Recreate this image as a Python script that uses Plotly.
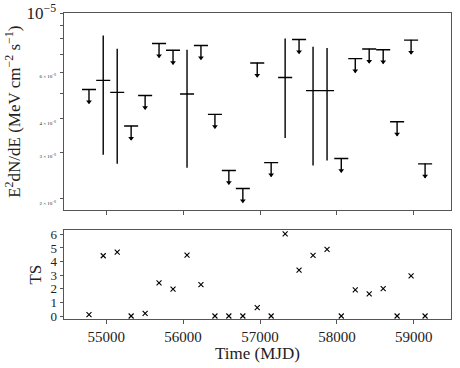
import plotly.graph_objects as go
from plotly.subplots import make_subplots

# bin centres (MJD)
mjd = [54776, 54961, 55143, 55324, 55506, 55687, 55869, 56051, 56232, 56414,
       56595, 56777, 56964, 57145, 57327, 57508, 57690, 57872, 58057, 58239,
       58420, 58602, 58783, 58965, 59147]
bin_half = 91.3

# flux (E^2 dN/dE), upper limits where not detected
flux = [5.16e-6, 5.58e-6, 5.03e-6, 3.76e-6, 4.90e-6, 7.68e-6, 7.24e-6, 4.96e-6,
        7.55e-6, 4.16e-6, 2.56e-6, 2.19e-6, 6.49e-6, 2.74e-6, 5.72e-6, 7.95e-6,
        5.11e-6, 5.11e-6, 2.84e-6, 6.74e-6, 7.32e-6, 7.28e-6, 3.90e-6, 7.91e-6,
        2.71e-6]
flux_hi = [None, 8.23e-6, 7.34e-6, None, None, None, None, 7.28e-6,
           None, None, None, None, None, None, 8.02e-6, None,
           7.47e-6, 7.39e-6, None, None, None, None, None, None, None]
flux_lo = [None, 2.93e-6, 2.71e-6, None, None, None, None, 2.62e-6,
           None, None, None, None, None, None, 3.39e-6, None,
           2.67e-6, 2.79e-6, None, None, None, None, None, None, None]

ts = [0.1, 4.43, 4.70, 0.0, 0.2, 2.44, 1.97, 4.48, 2.31, 0.0, 0.0, 0.0, 0.61,
      0.0, 6.03, 3.37, 4.45, 4.89, 0.0, 1.92, 1.62, 2.01, 0.0, 2.95, 0.0]

FONT = "Liberation Serif"
INK = "black"
FRAME = "#555555"
TXT = "#222222"

det = [i for i in range(len(mjd)) if flux_hi[i] is not None]
ul = [i for i in range(len(mjd)) if flux_hi[i] is None]

fig = make_subplots(rows=2, cols=1, shared_xaxes=True, vertical_spacing=0.065,
                    row_heights=[0.69, 0.31])

# detections
fig.add_trace(go.Scatter(
    x=[mjd[i] for i in det], y=[flux[i] for i in det], mode="markers",
    marker=dict(size=1, color=INK),
    error_x=dict(type="constant", value=bin_half, width=0, thickness=1.4, color=INK),
    error_y=dict(type="data", symmetric=False,
                 array=[flux_hi[i] - flux[i] for i in det],
                 arrayminus=[flux[i] - flux_lo[i] for i in det],
                 width=0, thickness=1.4, color=INK),
    showlegend=False, hoverinfo="skip"), row=1, col=1)

# upper limits: bar + stem
fig.add_trace(go.Scatter(
    x=[mjd[i] for i in ul], y=[flux[i] for i in ul], mode="markers",
    marker=dict(size=1, color=INK),
    error_x=dict(type="constant", value=bin_half, width=0, thickness=1.4, color=INK),
    error_y=dict(type="data", symmetric=False,
                 array=[0] * len(ul),
                 arrayminus=[flux[i] * (1 - 0.887) for i in ul],
                 width=0, thickness=1.4, color=INK),
    showlegend=False, hoverinfo="skip"), row=1, col=1)

# arrow heads
fig.add_trace(go.Scatter(
    x=[mjd[i] for i in ul], y=[flux[i] * 0.9 for i in ul], mode="markers",
    marker=dict(symbol="triangle-down", size=5, color=INK),
    showlegend=False, hoverinfo="skip"), row=1, col=1)

fig.add_trace(go.Scatter(
    x=mjd, y=ts, mode="markers",
    marker=dict(symbol="x-thin", size=5, line=dict(width=1.1, color=INK)),
    showlegend=False, hoverinfo="skip"), row=2, col=1)

small = '<span style="font-size:5px">{}</span>'
yt_vals = [2e-6, 3e-6, 4e-6, 5e-6, 6e-6, 7e-6, 8e-6, 9e-6, 1e-5]
yt_text = [small.format("2 × 10<sup>−6</sup>"), small.format("3 × 10<sup>−6</sup>"),
           small.format("4 × 10<sup>−6</sup>"), "", small.format("6 × 10<sup>−6</sup>"),
           "", "", "", "10<sup>−5</sup>"]

axis_common = dict(showline=True, mirror=True, linecolor=FRAME, linewidth=1,
                   ticks="outside", ticklen=3.5, tickcolor=FRAME, showgrid=False,
                   zeroline=False, automargin=False)

fig.update_xaxes(range=[54451, 59484], tickvals=[55000, 56000, 57000, 58000, 59000],
                 ticktext=["55000", "56000", "57000", "58000", "59000"],
                 **axis_common)
fig.update_xaxes(showticklabels=False, row=1, col=1)
fig.update_xaxes(title=dict(text="Time (MJD)", font=dict(size=17, family=FONT, color=TXT),
                            standoff=2),
                 tickfont=dict(size=15, family=FONT, color=TXT), row=2, col=1)

fig.update_yaxes(type="log", range=[-5.742, -5.0], tickvals=yt_vals, ticktext=yt_text,
                 tickfont=dict(size=17, family=FONT, color=TXT),
                 title=dict(text="E<sup>2</sup>dN/dE (MeV cm<sup>−2</sup> s<sup>−1</sup>)",
                            font=dict(size=17, family=FONT, color=TXT), standoff=1),
                 row=1, col=1, **axis_common)
fig.update_yaxes(range=[-0.22, 6.3], tickvals=[0, 1, 2, 3, 4, 5, 6],
                 tickfont=dict(size=13, family=FONT, color=TXT),
                 title=dict(text="TS", font=dict(size=17, family=FONT, color=TXT), standoff=4),
                 row=2, col=1, **axis_common)

fig.update_layout(width=460, height=368, margin=dict(l=64, r=9, t=13, b=49),
                  paper_bgcolor="white", plot_bgcolor="white",
                  font=dict(family=FONT, color=TXT))

fig.write_html("out.html", config={"displayModeBar": False},
               post_script="document.body.style.margin='0px';")
